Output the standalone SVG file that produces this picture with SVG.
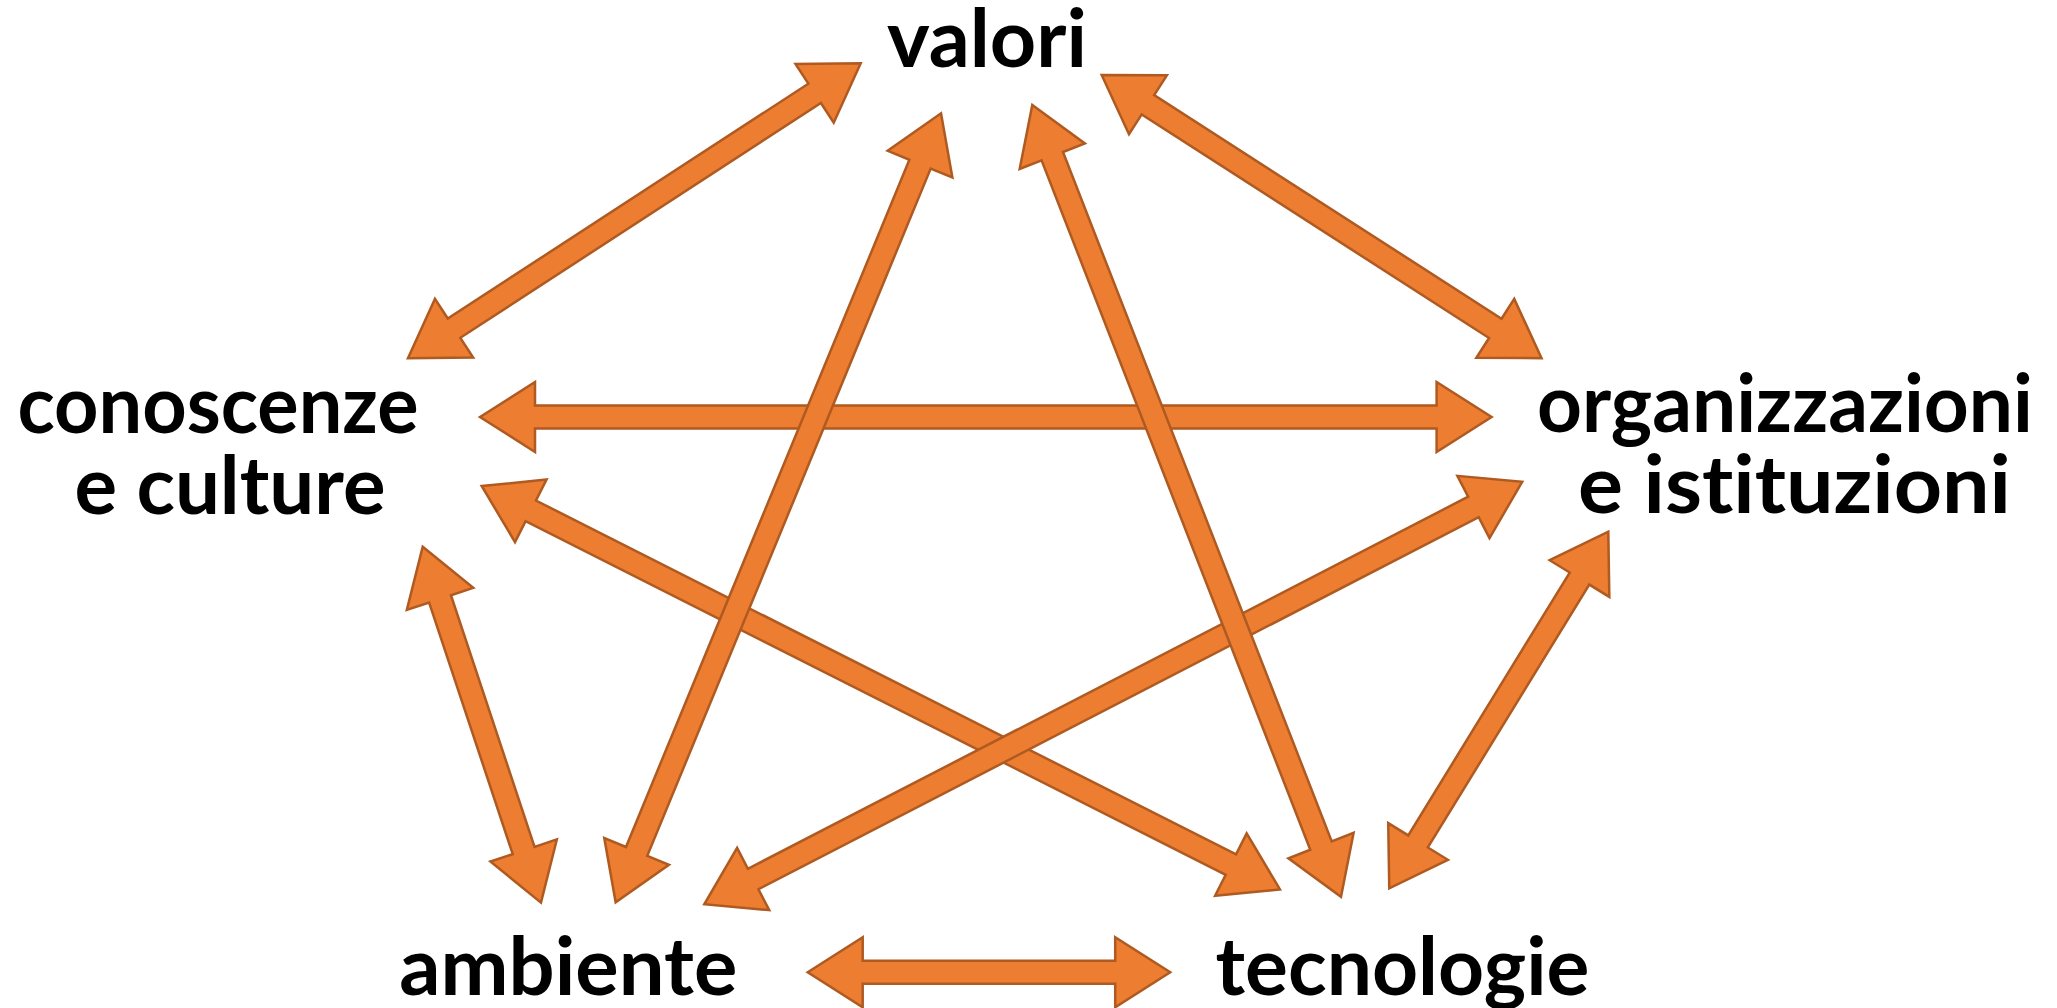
<svg xmlns="http://www.w3.org/2000/svg" width="2057" height="1008" viewBox="0 0 2057 1008">
<style>
.arr{fill:#ED7D31;stroke:#AE5A21;stroke-width:2.5;stroke-linejoin:miter}
.lbl{font-family:Lato,"Open Sans","Liberation Sans",sans-serif;font-weight:bold;font-size:80px;fill:#000;text-anchor:middle;font-variant-ligatures:none;font-feature-settings:"liga" 0,"dlig" 0}
</style>
<rect width="2057" height="1008" fill="#fff"/>
<g id="connectors">
<path class="arr" transform="translate(860.7,63.3) rotate(146.92)" d="M0,0 L55,-35 L55,-11.5 L485.3,-11.5 L485.3,-35 L540.3,0 L485.3,35 L485.3,11.5 L55,11.5 L55,35 Z"/>
<path class="arr" transform="translate(1101.7,75) rotate(32.77)" d="M0,0 L55,-35 L55,-11.5 L468.1,-11.5 L468.1,-35 L523.1,0 L468.1,35 L468.1,11.5 L55,11.5 L55,35 Z"/>
<path class="arr" transform="translate(480,417)" d="M0,0 L55,-35 L55,-11.5 L956.6,-11.5 L956.6,-35 L1011.6,0 L956.6,35 L956.6,11.5 L55,11.5 L55,35 Z"/>
<path class="arr" transform="translate(481.7,486) rotate(26.81)" d="M0,0 L55,-35 L55,-11.5 L839.4,-11.5 L839.4,-35 L894.4,0 L839.4,35 L839.4,11.5 L55,11.5 L55,35 Z"/>
<path class="arr" transform="translate(1522.3,481.7) rotate(152.68)" d="M0,0 L55,-35 L55,-11.5 L865.7,-11.5 L865.7,-35 L920.7,0 L865.7,35 L865.7,11.5 L55,11.5 L55,35 Z"/>
<path class="arr" transform="translate(941,113.3) rotate(112.41)" d="M0,0 L55,-35 L55,-11.5 L798.4,-11.5 L798.4,-35 L853.4,0 L798.4,35 L798.4,11.5 L55,11.5 L55,35 Z"/>
<path class="arr" transform="translate(1032.3,105) rotate(68.70)" d="M0,0 L55,-35 L55,-11.5 L794.8,-11.5 L794.8,-35 L849.8,0 L794.8,35 L794.8,11.5 L55,11.5 L55,35 Z"/>
<path class="arr" transform="translate(422.7,546.7) rotate(71.62)" d="M0,0 L55,-35 L55,-11.5 L320.1,-11.5 L320.1,-35 L375.1,0 L320.1,35 L320.1,11.5 L55,11.5 L55,35 Z"/>
<path class="arr" transform="translate(1608.3,531.7) rotate(121.56)" d="M0,0 L55,-35 L55,-11.5 L363.5,-11.5 L363.5,-35 L418.5,0 L363.5,35 L363.5,11.5 L55,11.5 L55,35 Z"/>
<path class="arr" transform="translate(807.7,972.3)" d="M0,0 L55,-35 L55,-11.5 L307.5,-11.5 L307.5,-35 L362.5,0 L307.5,35 L307.5,11.5 L55,11.5 L55,35 Z"/>
</g>
<g id="valori"><text class="lbl" x="987" y="67" textLength="200" lengthAdjust="spacingAndGlyphs">valori</text></g>
<g id="conoscenze"><text class="lbl" x="218" y="433" textLength="401" lengthAdjust="spacingAndGlyphs">conoscenze</text><text class="lbl" x="230" y="514" textLength="311" lengthAdjust="spacingAndGlyphs">e culture</text></g>
<g id="organizzazioni"><text class="lbl" x="1785" y="432" textLength="496" lengthAdjust="spacingAndGlyphs">organizzazioni</text><text class="lbl" x="1794.5" y="513" textLength="433" lengthAdjust="spacingAndGlyphs">e istituzioni</text></g>
<g id="ambiente"><text class="lbl" x="568.3" y="995" textLength="338" lengthAdjust="spacingAndGlyphs">ambiente</text></g>
<g id="tecnologie"><text class="lbl" x="1402.5" y="995" textLength="374" lengthAdjust="spacingAndGlyphs">tecnologie</text></g>
</svg>
